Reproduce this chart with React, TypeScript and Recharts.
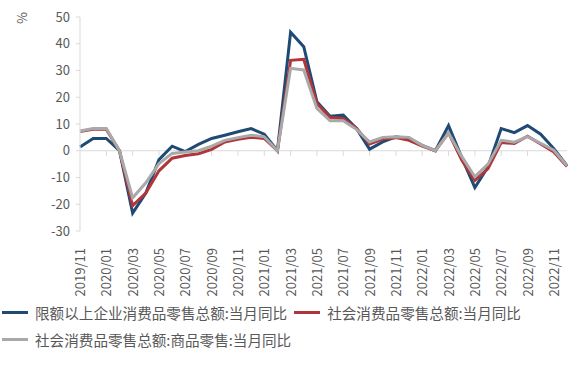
import { LineChart, Line, XAxis, YAxis, ReferenceLine, Legend } from 'recharts';

// 月份（横轴类目）
const months = [
  '2019/11', '2019/12',
  '2020/01', '2020/02', '2020/03', '2020/04', '2020/05', '2020/06',
  '2020/07', '2020/08', '2020/09', '2020/10', '2020/11', '2020/12',
  '2021/01', '2021/02', '2021/03', '2021/04', '2021/05', '2021/06',
  '2021/07', '2021/08', '2021/09', '2021/10', '2021/11', '2021/12',
  '2022/01', '2022/02', '2022/03', '2022/04', '2022/05', '2022/06',
  '2022/07', '2022/08', '2022/09', '2022/10', '2022/11', '2022/12',
];

// 限额以上企业消费品零售总额:当月同比
const aboveLimit = [
  1.4, 4.6, 4.6, 0, -23.3, -15.8, -3.3, 1.7, -0.3, 2.4, 4.6, 5.8, 7.1, 8.3,
  6.2, 0, 44.3, 38.9, 18.3, 12.9, 13.3, 8.3, 0.6, 3.3, 5.2, 4.5, 2.0, 0,
  9.4, -2.5, -13.8, -6.0, 8.3, 6.8, 9.4, 6.2, 0.8, -5.6,
];

// 社会消费品零售总额:当月同比
const totalRetail = [
  7.2, 8.0, 8.0, 0, -20.5, -15.8, -7.5, -2.8, -1.8, -1.1, 0.5, 3.3, 4.3, 5.0,
  4.6, 0, 33.8, 34.2, 17.7, 12.4, 12.1, 8.5, 2.5, 4.4, 4.9, 3.9, 1.7, 0,
  6.7, -3.5, -11.1, -6.7, 3.1, 2.7, 5.4, 2.5, -0.5, -5.9,
];

// 社会消费品零售总额:商品零售:当月同比
const goodsRetail = [
  7.4, 8.3, 8.3, 0, -17.6, -12.0, -4.8, -1.0, -0.5, 0, 1.7, 3.9, 4.9, 5.8,
  5.2, 0, 30.8, 30.2, 15.8, 11.2, 11.2, 8.0, 3.3, 5.0, 5.2, 5.0, 2.0, 0,
  6.6, -2.1, -9.7, -5.0, 3.9, 3.2, 5.3, 2.8, 0.2, -5.6,
];

const yTicks = [-30, -20, -10, 0, 10, 20, 30, 40, 50];

const series = [
  { key: 'aboveLimit', name: '限额以上企业消费品零售总额:当月同比', color: '#1f4a74' },
  { key: 'totalRetail', name: '社会消费品零售总额:当月同比', color: '#b0363b' },
  { key: 'goodsRetail', name: '社会消费品零售总额:商品零售:当月同比', color: '#a9a9a9' },
];

const data = months.map((month, i) => ({
  month,
  aboveLimit: aboveLimit[i],
  totalRetail: totalRetail[i],
  goodsRetail: goodsRetail[i],
}));

const FONT = '"Noto Sans CJK SC", "Noto Sans", sans-serif';
const TEXT = '#595959';
const AXIS = '#d9d9d9';

const MonthTick = ({ x, y, payload }: any) => (
  <text
    x={x}
    y={y}
    dx={-9}
    dy={5}
    transform={`rotate(-90 ${x} ${y})`}
    textAnchor="end"
    fontSize={13}
    fontFamily={FONT}
    fill={TEXT}
  >
    {payload.value}
  </text>
);

// zero line with small ticks every two months, hanging below
const ZeroLine = (props: any) => {
  const { x1, x2, y1 } = props;
  const step = (x2 - x1) / (months.length - 1);
  const marks = months.map((_, i) => i).filter((i) => i % 2 === 0 && i > 0);
  return (
    <g>
      <line x1={x1} y1={y1} x2={x2} y2={y1} stroke={AXIS} strokeWidth={1} />
      {marks.map((i) => (
        <line key={i} x1={x1 + i * step} y1={y1} x2={x1 + i * step} y2={y1 + 5} stroke={AXIS} />
      ))}
    </g>
  );
};

const LegendBox = () => (
  <div
    style={{
      height: 71,
      paddingTop: 3,
      boxSizing: 'border-box',
      display: 'flex',
      flexWrap: 'wrap',
      alignContent: 'flex-start',
      fontFamily: FONT,
      fontSize: 14.6,
      color: TEXT,
    }}
  >
    {series.map((s) => (
      <div key={s.key} style={{ display: 'flex', alignItems: 'center', height: 27, marginLeft: 2, marginRight: 5 }}>
        <span style={{ display: 'inline-block', width: 26, height: 3, background: s.color, marginRight: 7 }} />
        <span style={{ whiteSpace: 'nowrap' }}>{s.name}</span>
      </div>
    ))}
  </div>
);

export default function App() {
  return (
    <div style={{ position: 'absolute', left: 0, top: 0, width: 585, height: 367, background: '#fff' }}>
      <LineChart width={585} height={367} data={data} margin={{ top: 17, right: 18, left: 0, bottom: 0 }}>
        <XAxis
          dataKey="month"
          interval={1}
          tickLine={false}
          axisLine={false}
          height={65}
          tick={<MonthTick />}
        />
        <YAxis
          width={80}
          domain={[-30, 50]}
          ticks={yTicks}
          interval={0}
          allowDataOverflow
          axisLine={{ stroke: AXIS }}
          tickLine={{ stroke: AXIS }}
          tickSize={4}
          tickMargin={6}
          tick={{ fontSize: 13, fill: TEXT, fontFamily: FONT }}
          label={({ viewBox }: any) => (
            <text
              x={viewBox.x + 21}
              y={viewBox.y + 1}
              transform={`rotate(-90 ${viewBox.x + 21} ${viewBox.y + 1})`}
              textAnchor="middle"
              dominantBaseline="central"
              fontSize={13}
              fontFamily={FONT}
              fill={TEXT}
            >
              %
            </text>
          )}
        />
        <ReferenceLine y={0} shape={<ZeroLine />} />
        <Legend verticalAlign="bottom" align="left" content={<LegendBox />} wrapperStyle={{ left: 0, width: 585 }} />
        {series.map((s) => (
          <Line
            key={s.key}
            type="linear"
            dataKey={s.key}
            name={s.name}
            stroke={s.color}
            strokeWidth={3}
            dot={false}
            activeDot={false}
            isAnimationActive={false}
          />
        ))}
      </LineChart>
    </div>
  );
}
